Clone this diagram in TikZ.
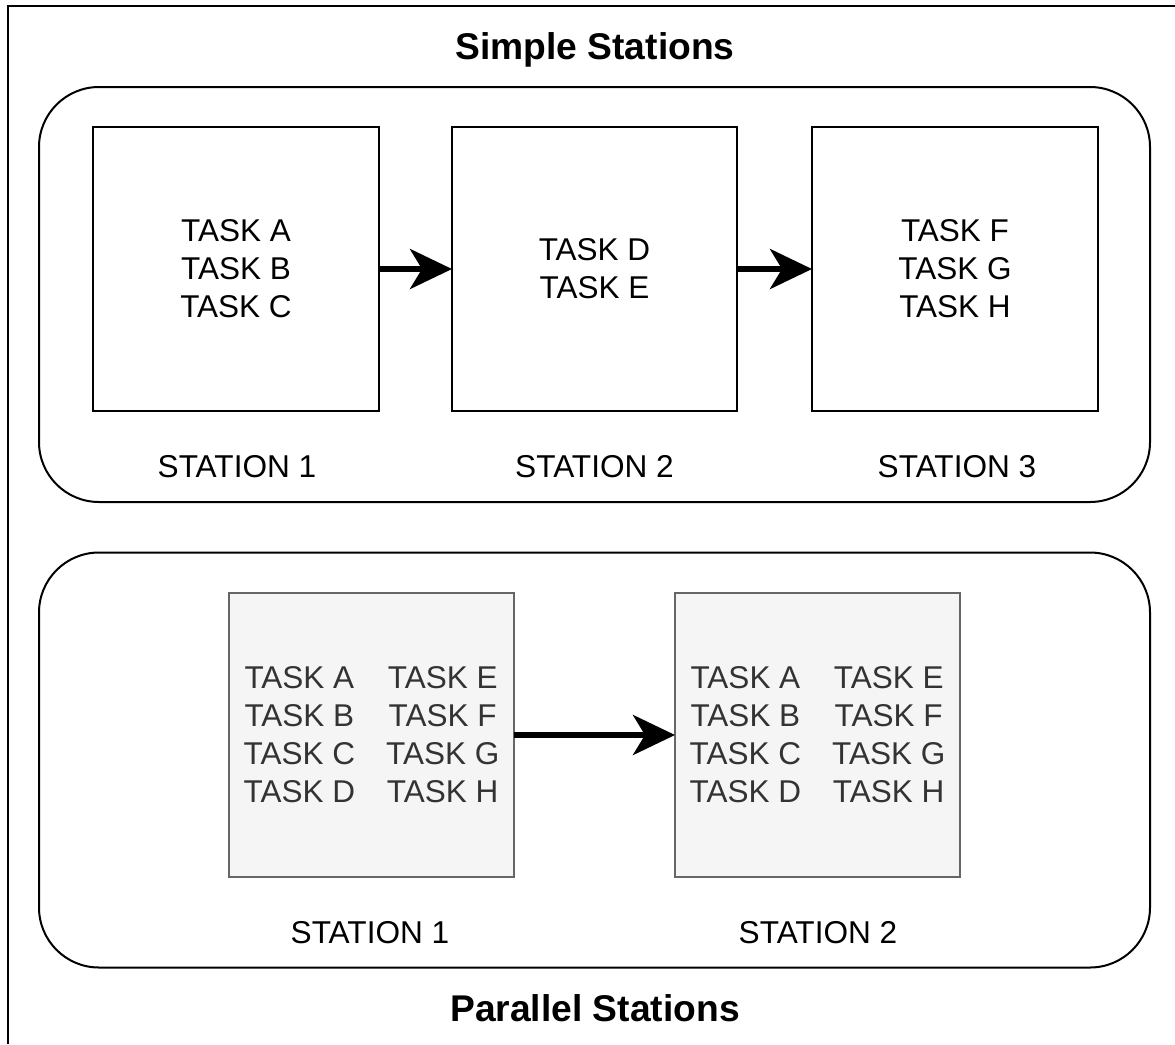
\documentclass[tikz,border=0pt]{standalone}
\usepackage{fontspec}
\setmainfont{Liberation Sans}
\usetikzlibrary{arrows.meta}
\definecolor{boxgray}{HTML}{F5F5F5}
\definecolor{edgegray}{HTML}{666666}
\definecolor{textgray}{HTML}{333333}
\tikzset{
  container/.style={draw=black, line width=2pt, rounded corners=60pt,
    minimum width=1111pt, minimum height=415pt, inner sep=0pt, outer sep=0pt},
  taskbox/.style={draw=black, line width=2pt, minimum width=286pt,
    minimum height=284pt, inner sep=0pt, outer sep=0pt, align=center,
    font=\fontsize{31.5}{38}\selectfont},
  parbox/.style={draw=edgegray, fill=boxgray, line width=2pt, minimum width=285pt,
    minimum height=284pt, inner sep=0pt, outer sep=0pt, text=textgray,
    font=\fontsize{31.5}{38}\selectfont},
  stationlabel/.style={inner sep=0pt, font=\fontsize{31.6}{36}\selectfont},
  heading/.style={inner sep=0pt, font=\fontsize{37.2}{44}\selectfont\bfseries},
  flow/.style={line width=6pt, -{Stealth[length=42pt, width=40pt, inset=12pt]}},
}
% two columns of tasks, nudged slightly below the box centre
\newcommand{\taskgrid}[1]{%
  \raisebox{0pt}[\dimexpr\height+6pt\relax][\depth]{%
    \begin{tabular}{@{}c@{\hspace{31pt}}c@{}}#1\end{tabular}}}
\begin{document}
\begin{tikzpicture}[x=1pt, y=-1pt]
\useasboundingbox (0,0) rectangle (1175,1044);

% page frame (top and left edges)
\coordinate (frameBL) at (7.5,1044);
\coordinate (frameTL) at (7.5,5.5);
\coordinate (frameTR) at (1175,5.5);
\draw[line width=2pt] (frameBL) -- (frameTL) -- (frameTR);

% simple stations
\node[heading] (titleSimple) at (595,49.5) {Simple Stations};
\node[container] (simple) at (594.5,294.5) {};

\node[taskbox] (s1) at (236,269) {TASK A\\TASK B\\TASK C};
\node[taskbox, minimum width=285pt] (s2) at (594.5,269) {TASK D\\TASK E};
\node[taskbox] (s3) at (955,269) {TASK F\\TASK G\\TASK H};

\node[stationlabel] (l1) at (237,467) {STATION 1};
\node[stationlabel] (l2) at (594.5,467) {STATION 2};
\node[stationlabel] (l3) at (957,467) {STATION 3};

\draw[flow] (s1.east) -- (s2.west);
\draw[flow] (s2.east) -- (s3.west);

% parallel stations
\node[container] (parallel) at (594.5,760) {};

\node[parbox] (p1) at (371.5,735)
  {\taskgrid{TASK A & TASK E\\TASK B & TASK F\\TASK C & TASK G\\TASK D & TASK H}};
\node[parbox] (p2) at (817.5,735)
  {\taskgrid{TASK A & TASK E\\TASK B & TASK F\\TASK C & TASK G\\TASK D & TASK H}};

\node[stationlabel] (m1) at (370,933) {STATION 1};
\node[stationlabel] (m2) at (818,933) {STATION 2};

\draw[flow] (p1.east) -- (p2.west);

\node[heading] (titleParallel) at (595,1008.5) {Parallel Stations};
\end{tikzpicture}
\end{document}
